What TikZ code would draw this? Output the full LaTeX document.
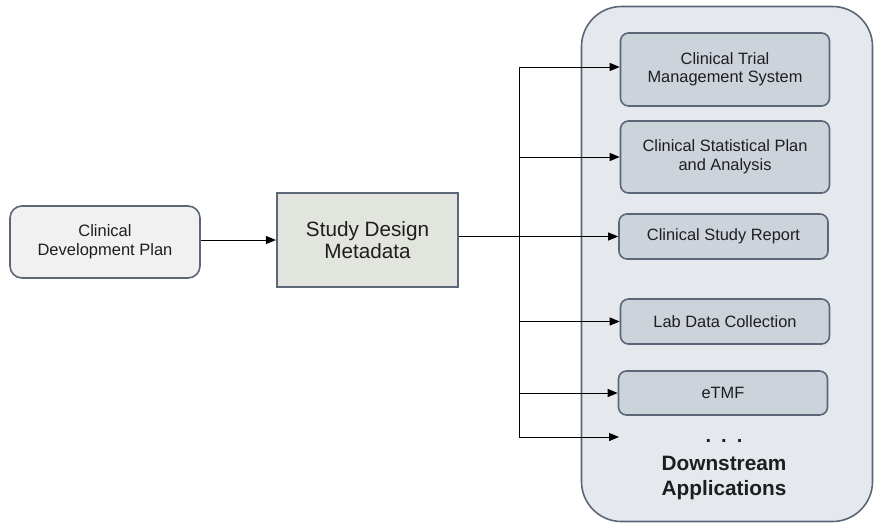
\documentclass[tikz,border=0pt]{standalone}
\usepackage{fontspec}
\setmainfont{Liberation Sans}
\usetikzlibrary{arrows.meta}
\definecolor{cdpfill}{HTML}{F1F1F1}
\definecolor{sdmfill}{HTML}{E2E5DD}
\definecolor{contfill}{HTML}{E5E9EE}
\definecolor{boxfill}{HTML}{CDD3DB}
\definecolor{edge}{HTML}{5B6778}
\definecolor{textc}{HTML}{1E1E1E}
\tikzset{
  appbox/.style={draw=edge, line width=1.6pt, fill=boxfill, rounded corners=8pt,
    minimum width=209pt, align=center, text=textc, font=\fontsize{16.4}{18.5}\selectfont, inner sep=0pt},
  conn/.style={line width=0.9pt, black},
  arr/.style={conn, -{Triangle[length=10pt,width=8pt]}}
}
\begin{document}
\begin{tikzpicture}[x=1pt,y=-1pt]
\useasboundingbox (0,0) rectangle (874,523);
% container
\node (cont) [draw=edge, line width=1.6pt, fill=contfill, rounded corners=40pt,
  minimum width=291pt, minimum height=515pt, inner sep=0pt] at (727,264) {};
% left nodes
\node (cdp) [draw=edge, line width=1.6pt, fill=cdpfill, rounded corners=12pt,
  minimum width=190pt, minimum height=72pt, align=center, text=textc,
  font=\fontsize{16.5}{19}\selectfont, inner sep=0pt] at (105,242) {Clinical\\Development Plan};
\node (sdm) [draw=edge, line width=2.2pt, fill=sdmfill,
  minimum width=181pt, minimum height=94pt, align=center, text=textc,
  font=\fontsize{20.7}{22}\selectfont, inner sep=0pt] at (367.5,240) {Study Design\\Metadata};
% app boxes
\node (ctms) [appbox, minimum height=73pt] at (725,69.5) {Clinical Trial\\Management System};
\node (cspa) [appbox, minimum height=72pt] at (725,157) {Clinical Statistical Plan\\and Analysis};
\node (csr) [appbox, minimum height=45pt] at (723.5,236.5) {Clinical Study Report};
\node (lab) [appbox, minimum height=45pt] at (725,321.5) {Lab Data Collection};
\node (etmf) [appbox, minimum height=44pt] at (723,393) {eTMF};
\node (dots) [font=\fontsize{20}{22}\selectfont\bfseries, text=textc] at (724,441) {.\hspace{10pt}.\hspace{10pt}.};
\node (down) [font=\fontsize{20.8}{25}\selectfont\bfseries, align=center, text=textc] at (724,478) {Downstream\\Applications};
% bus
\coordinate (bustop) at (519,67);
\coordinate (busbot) at (519,437);
\coordinate (dotend) at (619,437);
% connectors
\draw[arr] (cdp.east |- sdm.west) -- (sdm.west);
\draw[conn] (bustop) -- (busbot);
\draw[arr] (sdm.east |- csr.west) -- (csr.west);
\draw[arr] (bustop) -- (ctms.west |- bustop);
\draw[arr] (cspa.west -| bustop) -- (cspa.west);
\draw[arr] (lab.west -| bustop) -- (lab.west);
\draw[arr] (etmf.west -| bustop) -- (etmf.west);
\draw[arr] (busbot) -- (dotend);
\end{tikzpicture}
\end{document}
